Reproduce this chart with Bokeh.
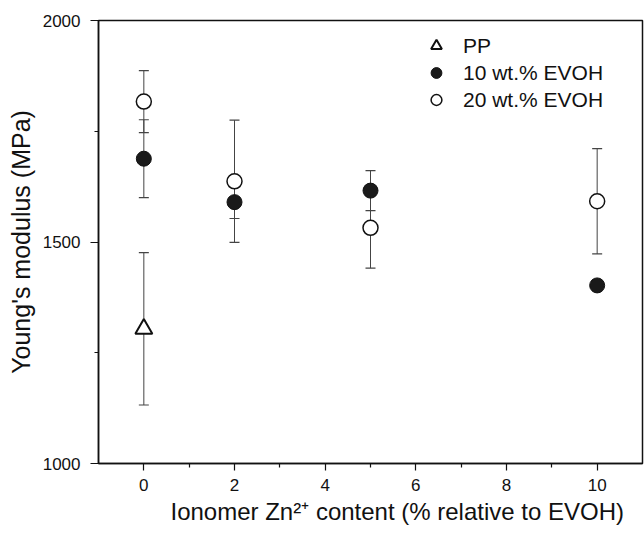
from bokeh.plotting import figure
from bokeh.models import (ColumnDataSource, Whisker, TeeHead, FixedTicker, Range1d,
                          Legend, LegendItem, Title)
from bokeh.embed import file_html
from bokeh.resources import INLINE

# ---- data ----
pp_x = [0]
pp_y = [1304]
pp_err = [172]

evoh10_x = [0, 2, 5, 10]
evoh10_y = [1688, 1590, 1616, 1402]
evoh10_err = [88, 37, 45, 12]

evoh20_x = [0, 2, 5, 10]
evoh20_y = [1817, 1637, 1532, 1592]
evoh20_err = [70, 138, 91, 119]

x_ticks = [0, 2, 4, 6, 8, 10]
x_minor = [1, 3, 5, 7, 9]
y_ticks = [1000, 1500, 2000]
y_minor = [1250, 1750]

x_title = "Ionomer Zn²⁺ content (% relative to EVOH)"
y_title = "Young's modulus (MPa)"
series_labels = ["PP", "10 wt.% EVOH", "20 wt.% EVOH"]

FONT = "Liberation Sans"
INK = "#111111"

p = figure(width=644, height=533, output_backend="svg", toolbar_location=None,
           x_range=Range1d(-1, 11), y_range=Range1d(1000, 2000),
           min_border_left=98, min_border_top=20, min_border_bottom=70,
           min_border_right=2)
p.xgrid.visible = False
p.ygrid.visible = False
p.outline_line_color = INK
p.outline_line_width = 1.5
p.background_fill_color = "white"
p.border_fill_color = "white"

def src(x, y, e):
    return ColumnDataSource(dict(x=x, y=y, upper=[a + b for a, b in zip(y, e)],
                                 lower=[a - b for a, b in zip(y, e)]))

s_pp = src(pp_x, pp_y, pp_err)
s10 = src(evoh10_x, evoh10_y, evoh10_err)
s20 = src(evoh20_x, evoh20_y, evoh20_err)

for s in (s_pp, s10, s20):
    w = Whisker(source=s, base="x", upper="upper", lower="lower", dimension="height",
                line_color="#444444", line_width=1,
                upper_head=TeeHead(size=10, line_color="#444444", line_width=1.2),
                lower_head=TeeHead(size=10, line_color="#444444", line_width=1.2))
    p.add_layout(w)

r_pp = p.scatter("x", "y", source=s_pp, marker="triangle", size=17,
                 fill_color="white", line_color=INK, line_width=2)
r10 = p.scatter("x", "y", source=s10, marker="circle", size=15,
                fill_color="#1a1a1a", line_color=INK, line_width=1)
r20 = p.scatter("x", "y", source=s20, marker="circle", size=15,
                fill_color="white", line_color=INK, line_width=1.5)

legend = Legend(items=[LegendItem(label=series_labels[0], renderers=[r_pp]),
                       LegendItem(label=series_labels[1], renderers=[r10]),
                       LegendItem(label=series_labels[2], renderers=[r20])],
                location=(322, 350), border_line_color=None, background_fill_alpha=0,
                padding=0, margin=0, spacing=0, glyph_width=32, glyph_height=27,
                label_standoff=11, label_text_font=FONT, label_text_font_size="21px",
                label_text_color=INK, label_height=27)
p.add_layout(legend, "center")

for ax in (p.xaxis[0], p.yaxis[0]):
    ax.axis_line_color = INK
    ax.axis_line_width = 1.5
    ax.major_tick_line_color = INK
    ax.minor_tick_line_color = INK
    ax.major_tick_line_width = 1.2
    ax.minor_tick_line_width = 1.2
    ax.major_tick_in = 0
    ax.minor_tick_in = 0
    ax.major_label_text_font = FONT
    ax.major_label_text_font_size = "17px"
    ax.major_label_text_color = INK
    ax.axis_label_text_font = FONT
    ax.axis_label_text_font_style = "normal"
    ax.axis_label_text_color = INK

p.xaxis.ticker = FixedTicker(ticks=x_ticks, minor_ticks=x_minor)
p.yaxis.ticker = FixedTicker(ticks=y_ticks, minor_ticks=y_minor)
p.xaxis.major_tick_out = 7
p.xaxis.minor_tick_out = 4
p.yaxis.major_tick_out = 8
p.yaxis.minor_tick_out = 4
p.yaxis.major_label_standoff = 10
p.xaxis.major_label_standoff = 8
p.yaxis.axis_label = y_title
p.yaxis.axis_label_text_font_size = "25px"
p.yaxis.axis_label_standoff = 5

p.add_layout(Title(text=x_title, align="left", offset=72, text_font=FONT,
                   text_font_size="24px", text_font_style="normal",
                   text_color=INK, standoff=4), "below")

open("out.html", "w").write(file_html(p, INLINE))
